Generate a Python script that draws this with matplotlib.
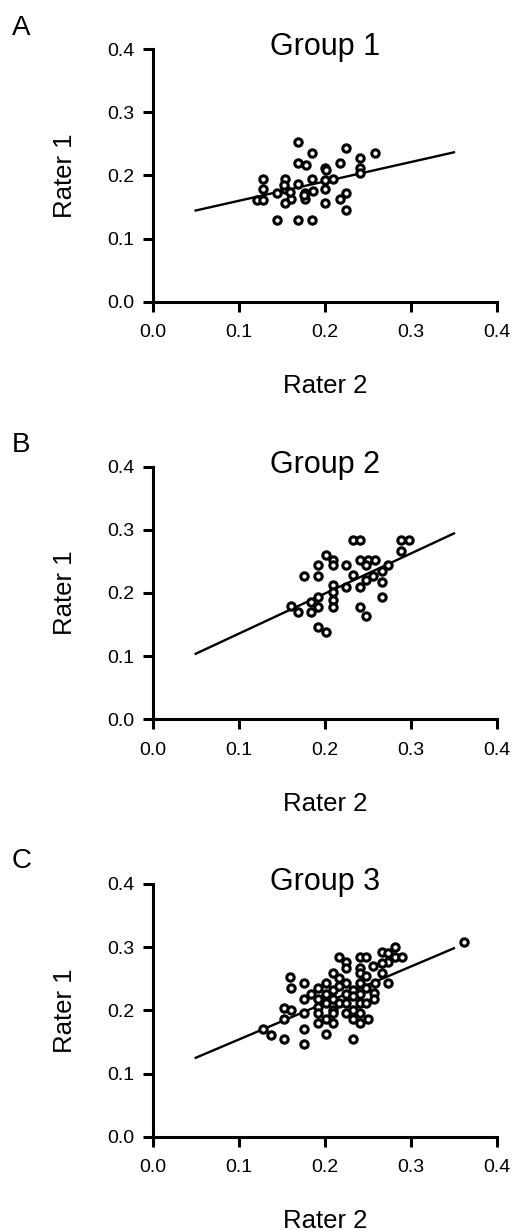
import matplotlib
matplotlib.use("Agg")
import matplotlib.pyplot as plt
import numpy as np

plt.rcParams['font.family'] = ['Liberation Sans', 'DejaVu Sans']

# Group 1 (Rater 2 on x, Rater 1 on y)
g1_x = [0.169, 0.225, 0.258, 0.185, 0.241, 0.169, 0.218, 0.200, 0.241, 0.241,
        0.128, 0.154, 0.185, 0.210, 0.200, 0.169, 0.128, 0.154, 0.200, 0.144,
        0.177, 0.225, 0.121, 0.128, 0.161, 0.177, 0.218, 0.154, 0.200, 0.225,
        0.144, 0.169, 0.185, 0.159, 0.186, 0.176, 0.178, 0.201, 0.153]
g1_y = [0.252, 0.243, 0.235, 0.235, 0.227, 0.219, 0.219, 0.211, 0.211, 0.203,
        0.195, 0.195, 0.195, 0.195, 0.192, 0.187, 0.179, 0.179, 0.179, 0.172,
        0.172, 0.172, 0.161, 0.161, 0.162, 0.162, 0.162, 0.156, 0.156, 0.145,
        0.129, 0.129, 0.129, 0.174, 0.176, 0.169, 0.216, 0.208, 0.184]

# Group 2
g2_x = [0.233, 0.241, 0.289, 0.298, 0.289, 0.201, 0.210, 0.241, 0.250, 0.258,
        0.192, 0.209, 0.225, 0.248, 0.273, 0.266, 0.233, 0.176, 0.192, 0.256,
        0.266, 0.248, 0.210, 0.225, 0.241, 0.209, 0.192, 0.266, 0.209, 0.184,
        0.161, 0.192, 0.209, 0.241, 0.169, 0.184, 0.248, 0.192, 0.201]
g2_y = [0.284, 0.284, 0.284, 0.284, 0.267, 0.260, 0.252, 0.252, 0.252, 0.252,
        0.244, 0.244, 0.244, 0.244, 0.244, 0.235, 0.228, 0.227, 0.227, 0.227,
        0.218, 0.221, 0.213, 0.210, 0.210, 0.202, 0.194, 0.194, 0.189, 0.186,
        0.179, 0.178, 0.178, 0.178, 0.170, 0.170, 0.163, 0.146, 0.138]

# Group 3
g3_x = [0.362, 0.281, 0.266, 0.217, 0.241, 0.248, 0.281, 0.290, 0.273, 0.225,
        0.256, 0.225, 0.241, 0.209, 0.241, 0.266, 0.248, 0.159, 0.217, 0.225,
        0.201, 0.176, 0.241, 0.273, 0.258, 0.161, 0.192, 0.210, 0.233, 0.248,
        0.257, 0.184, 0.201, 0.225, 0.241, 0.176, 0.192, 0.210, 0.257, 0.201,
        0.217, 0.225, 0.241, 0.192, 0.153, 0.161, 0.210, 0.233, 0.176, 0.192,
        0.210, 0.225, 0.241, 0.153, 0.201, 0.233, 0.250, 0.192, 0.210, 0.241,
        0.176, 0.128, 0.137, 0.201, 0.153, 0.233, 0.176, 0.217, 0.233, 0.248,
        0.266, 0.273]
g3_y = [0.308, 0.300, 0.292, 0.284, 0.284, 0.284, 0.284, 0.284, 0.276, 0.276,
        0.270, 0.267, 0.267, 0.259, 0.259, 0.259, 0.254, 0.252, 0.251, 0.244,
        0.243, 0.243, 0.244, 0.243, 0.243, 0.235, 0.235, 0.233, 0.233, 0.235,
        0.227, 0.226, 0.226, 0.226, 0.226, 0.218, 0.218, 0.218, 0.218, 0.211,
        0.211, 0.211, 0.211, 0.206, 0.203, 0.201, 0.201, 0.201, 0.196, 0.196,
        0.196, 0.196, 0.196, 0.186, 0.186, 0.186, 0.186, 0.180, 0.180, 0.180,
        0.170, 0.170, 0.161, 0.162, 0.154, 0.154, 0.146, 0.238, 0.222, 0.211,
        0.275, 0.290]

# regression lines: slope, intercept
fit_slope = [0.307, 0.635, 0.578]
fit_icpt = [0.129, 0.072, 0.096]
fit_x = [0.05, 0.35]

groups = [(g1_x, g1_y), (g2_x, g2_y), (g3_x, g3_y)]
titles = ['Group 1', 'Group 2', 'Group 3']
letters = ['A', 'B', 'C']
ticks = [0.0, 0.1, 0.2, 0.3, 0.4]

W, H = 512, 1231
fig = plt.figure(figsize=(W / 100, H / 100), dpi=100)

bottoms = [929.3, 511.7, 94.3]
letter_base = [35, 451.7, 868.4]

for i in range(3):
    ax = fig.add_axes([152.7 / W, bottoms[i] / H, 344.3 / W, 252.7 / H])
    gx, gy = groups[i]
    ax.plot(gx, gy, 'o', ms=5.3, mew=2.2, mfc='white', mec='black', zorder=3)
    lx = np.array(fit_x)
    ax.plot(lx, fit_slope[i] * lx + fit_icpt[i], color='black', lw=1.7, zorder=2)

    ax.set_xlim(0, 0.4)
    ax.set_ylim(0, 0.4)
    ax.set_xticks(ticks)
    ax.set_yticks(ticks)
    ax.set_xticklabels(['%.1f' % t for t in ticks])
    ax.set_yticklabels(['%.1f' % t for t in ticks])
    for s in ['top', 'right']:
        ax.spines[s].set_visible(False)
    for s in ['left', 'bottom']:
        ax.spines[s].set_linewidth(2.2)
    ax.tick_params(direction='out', length=7, width=2.2, labelsize=14)
    ax.tick_params(axis='x', pad=9)
    ax.tick_params(axis='y', pad=6)
    ax.set_xlabel('Rater 2', fontsize=18.5, labelpad=24)
    ax.set_ylabel('Rater 1', fontsize=18.5, labelpad=22)
    ax.text(0.5, 1 - 6 / 252.7, titles[i], transform=ax.transAxes,
            ha='center', va='baseline', fontsize=22)
    fig.text(12 / W, 1 - letter_base[i] / H, letters[i], ha='left',
             va='baseline', fontsize=20)

fig.savefig('out.png', dpi=100)
